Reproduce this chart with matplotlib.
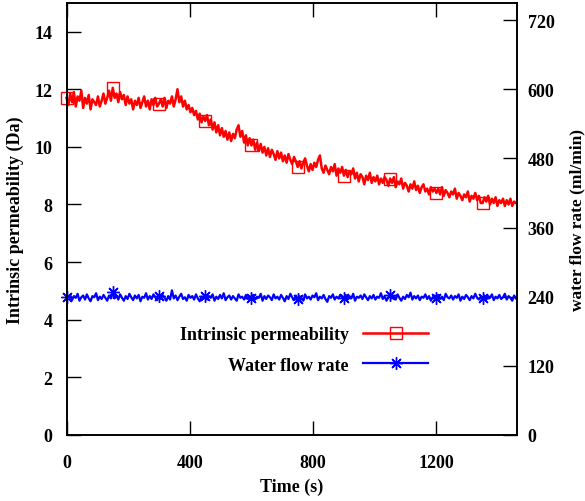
import numpy as np
import matplotlib
matplotlib.use("Agg")
import matplotlib.pyplot as plt

# Intrinsic permeability (Da), one reading every 6 s
perm = [
    11.70, 11.45, 11.85, 11.55, 11.90, 11.40, 11.75, 11.60, 11.95, 11.35, 11.70, 11.50, 11.80, 11.30, 11.65, 11.55, 11.45, 11.75, 11.40, 11.60, 11.85, 11.50, 11.70, 11.95, 11.60,
    12.05, 11.70, 11.85, 11.55, 11.90, 11.65, 11.80, 11.45, 11.75, 11.50, 11.65, 11.30, 11.60, 11.45, 11.70, 11.35, 11.55, 11.75, 11.40, 11.60, 11.30, 11.65, 11.45, 11.70, 11.40,
    11.50, 11.65, 11.40, 11.70, 11.35, 11.60, 11.50, 11.75, 11.40, 11.65, 12.00, 11.55, 11.75, 11.40, 11.60, 11.30, 11.45, 11.20, 11.35, 11.10, 11.25, 10.95, 11.15, 10.85, 11.05,
    10.90, 11.10, 10.75, 10.95, 10.60, 10.85, 10.50, 10.75, 10.40, 10.65, 10.35, 10.55, 10.25, 10.50, 10.20, 10.45, 10.30, 10.60, 10.75, 10.35, 10.55, 10.15, 10.40, 10.05, 10.30,
    10.05, 10.25, 9.90, 10.15, 9.85, 10.10, 9.80, 10.00, 9.70, 9.95, 9.65, 9.90, 9.75, 9.55, 9.85, 9.60, 9.80, 9.50, 9.70, 9.45, 9.75, 9.55, 9.40, 9.65, 9.50,
    9.30, 9.50, 9.25, 9.45, 9.60, 9.35, 9.15, 9.40, 9.20, 9.45, 9.30, 9.55, 9.70, 9.25, 9.10, 9.35, 9.20, 9.05, 9.30, 9.15, 9.40, 9.00, 9.25, 9.10, 9.30,
    9.00, 9.20, 8.95, 9.15, 9.05, 9.25, 8.90, 9.10, 8.80, 9.05, 8.95, 8.70, 9.00, 8.85, 9.10, 8.75, 8.95, 8.80, 9.00, 8.70, 8.90, 8.75, 8.95, 8.85, 8.65,
    8.90, 8.75, 8.95, 8.60, 8.80, 8.70, 8.90, 8.55, 8.75, 8.65, 8.45, 8.70, 8.55, 8.80, 8.50, 8.65, 8.40, 8.60, 8.70, 8.45, 8.55, 8.35, 8.60, 8.45, 8.55,
    8.40, 8.55, 8.35, 8.60, 8.30, 8.50, 8.40, 8.25, 8.45, 8.35, 8.55, 8.20, 8.40, 8.30, 8.15, 8.35, 8.25, 8.45, 8.10, 8.30, 8.20, 8.40, 8.15, 8.30, 8.05,
    8.05, 8.25, 8.10, 8.30, 8.00, 8.20, 8.05, 8.25, 7.95, 8.15, 8.05, 8.20, 7.95, 8.15, 8.00, 8.20, 7.95, 8.10, 8.05,
]

# Water flow rate (ml/min), same sampling
flow = [
    240, 236, 243, 234, 241, 238, 245, 233, 239, 242, 235, 244, 237, 232, 241, 239, 246, 234, 240, 236, 243, 238, 233, 242, 237,
    248, 237, 242, 235, 244, 238, 233, 241, 236, 245, 239, 234, 242, 237, 243, 232, 240, 238, 246, 235, 241, 236, 244, 239, 234,
    242, 236, 243, 238, 233, 241, 235, 251, 237, 242, 234, 240, 245, 236, 239, 233, 243, 238, 241, 235, 244, 237, 232, 240, 239,
    242, 235, 241, 238, 244, 233, 240, 236, 243, 237, 246, 234, 239, 242, 235, 241, 237, 233, 244, 238, 240, 235, 243, 236, 241,
    237, 243, 235, 240, 238, 245, 233, 241, 236, 242, 239, 234, 244, 237, 240, 235, 243, 238, 232, 241, 236, 245, 239, 234, 242,
    236, 241, 238, 233, 244, 237, 240, 235, 242, 239, 246, 234, 240, 237, 243, 236, 231, 241, 238, 244, 235, 240, 237, 243, 239,
    238, 243, 235, 241, 237, 245, 233, 240, 238, 242, 236, 244, 239, 234, 241, 237, 243, 235, 240, 238, 246, 236, 241, 233, 239,
    243, 237, 241, 235, 244, 238, 233, 240, 236, 243, 239, 247, 235, 241, 237, 242, 234, 240, 238, 244, 236, 241, 233, 239, 242,
    238, 243, 236, 240, 234, 245, 239, 237, 242, 235, 241, 238, 244, 233, 240, 236, 243, 239, 234, 241, 237, 245, 238, 235, 240,
    237, 242, 235, 241, 238, 244, 234, 240, 237, 243, 236, 239, 245, 235, 241, 238, 233, 242, 237,
]

t_perm = np.arange(len(perm)) * 6
t_flow = np.arange(len(flow)) * 6

plt.rcParams['font.family'] = ['Liberation Serif', 'DejaVu Serif']
plt.rcParams['font.weight'] = 'bold'
plt.rcParams['axes.labelweight'] = 'bold'
plt.rcParams['font.size'] = 13

fig = plt.figure(figsize=(5.85, 5.02), dpi=100)
ax = fig.add_axes([0.1137, 0.1315, 0.7693, 0.861])
ax2 = ax.twinx()

l1, = ax.plot(t_perm, perm, color='red', lw=1.8, marker='s', markevery=25,
              markersize=8.5, markerfacecolor='none', markeredgecolor='red',
              markeredgewidth=1.0, clip_on=False, label='Intrinsic permeability')
l2, = ax2.plot(t_flow, flow, color='blue', lw=1.6, marker=(8, 2, 0), markevery=25,
               markersize=9, markeredgewidth=1.0, clip_on=False, label='Water flow rate')

ax.set_xlim(0, 1460)
ax.set_ylim(0, 15)
ax2.set_ylim(0, 750)
ax.set_xticks([0, 400, 800, 1200])
ax.set_yticks(range(0, 15, 2))
ax2.set_yticks(range(0, 721, 120))

ax.tick_params(axis='x', direction='in', length=10, width=1, top=True, pad=14)
ax.tick_params(axis='y', direction='in', length=10, width=1, pad=10)
ax2.tick_params(axis='y', direction='in', length=10, width=1, pad=8)
for a in (ax, ax2):
    for s in a.spines.values():
        s.set_linewidth(1.2)

ax.set_xlabel('Time (s)')
ax.set_ylabel('Intrinsic permeability (Da)', va='center', ha='center')
ax2.set_ylabel('water flow rate (ml/min)', fontsize=12.5, va='center', ha='center')
ax.xaxis.set_label_coords(0.5, -0.099)
ax.yaxis.set_label_coords(-0.114, 0.5)
ax2.yaxis.set_label_coords(1.136, 0.5)

ax2.legend([l1, l2], ['Intrinsic permeability', 'Water flow rate'],
           loc='upper right', bbox_to_anchor=(428 / 585, 1 - 327 / 502),
           bbox_transform=fig.transFigure, frameon=False, markerfirst=False,
           borderpad=0, borderaxespad=0, handlelength=3.6, handletextpad=0.8,
           labelspacing=0.75, numpoints=1)

fig.savefig('out.png', dpi=100)
